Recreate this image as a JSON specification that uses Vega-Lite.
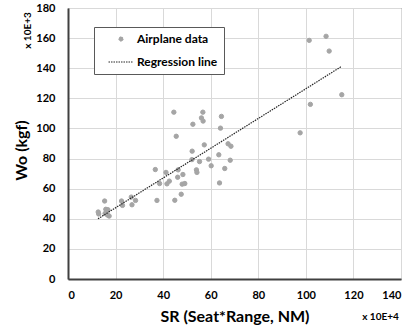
{
  "$schema": "https://vega.github.io/schema/vega-lite/v6.json",
  "width": 333,
  "height": 271,
  "autosize": {"type": "none"},
  "padding": {"left": 68, "top": 8, "right": 13, "bottom": 47},
  "background": "white",
  "datasets": {
    "pts": [
      {"sr": 12.7, "wo": 44.5, "series": "Airplane data"},
      {"sr": 12.9, "wo": 43.2, "series": "Airplane data"},
      {"sr": 15.4, "wo": 51.8, "series": "Airplane data"},
      {"sr": 15.9, "wo": 46.3, "series": "Airplane data"},
      {"sr": 16.8, "wo": 46.0, "series": "Airplane data"},
      {"sr": 15.6, "wo": 43.5, "series": "Airplane data"},
      {"sr": 17.3, "wo": 41.8, "series": "Airplane data"},
      {"sr": 16.6, "wo": 42.5, "series": "Airplane data"},
      {"sr": 22.5, "wo": 51.8, "series": "Airplane data"},
      {"sr": 22.9, "wo": 48.9, "series": "Airplane data"},
      {"sr": 26.6, "wo": 54.4, "series": "Airplane data"},
      {"sr": 26.9, "wo": 49.3, "series": "Airplane data"},
      {"sr": 28.4, "wo": 52.2, "series": "Airplane data"},
      {"sr": 36.7, "wo": 72.7, "series": "Airplane data"},
      {"sr": 37.4, "wo": 52.2, "series": "Airplane data"},
      {"sr": 38.5, "wo": 63.4, "series": "Airplane data"},
      {"sr": 41.2, "wo": 70.8, "series": "Airplane data"},
      {"sr": 41.6, "wo": 63.2, "series": "Airplane data"},
      {"sr": 42.6, "wo": 65.0, "series": "Airplane data"},
      {"sr": 44.5, "wo": 110.8, "series": "Airplane data"},
      {"sr": 45.5, "wo": 94.8, "series": "Airplane data"},
      {"sr": 44.9, "wo": 52.3, "series": "Airplane data"},
      {"sr": 46.3, "wo": 72.5, "series": "Airplane data"},
      {"sr": 46.1, "wo": 67.6, "series": "Airplane data"},
      {"sr": 47.6, "wo": 56.3, "series": "Airplane data"},
      {"sr": 48.3, "wo": 69.4, "series": "Airplane data"},
      {"sr": 48.0, "wo": 63.0, "series": "Airplane data"},
      {"sr": 49.1, "wo": 63.4, "series": "Airplane data"},
      {"sr": 52.5, "wo": 102.8, "series": "Airplane data"},
      {"sr": 52.2, "wo": 84.9, "series": "Airplane data"},
      {"sr": 52.1, "wo": 79.3, "series": "Airplane data"},
      {"sr": 54.0, "wo": 72.5, "series": "Airplane data"},
      {"sr": 54.2, "wo": 70.8, "series": "Airplane data"},
      {"sr": 55.3, "wo": 78.0, "series": "Airplane data"},
      {"sr": 56.1, "wo": 107.0, "series": "Airplane data"},
      {"sr": 56.7, "wo": 110.8, "series": "Airplane data"},
      {"sr": 56.8, "wo": 104.9, "series": "Airplane data"},
      {"sr": 57.3, "wo": 89.1, "series": "Airplane data"},
      {"sr": 59.1, "wo": 79.6, "series": "Airplane data"},
      {"sr": 60.2, "wo": 75.2, "series": "Airplane data"},
      {"sr": 63.4, "wo": 82.5, "series": "Airplane data"},
      {"sr": 63.7, "wo": 63.8, "series": "Airplane data"},
      {"sr": 64.1, "wo": 100.2, "series": "Airplane data"},
      {"sr": 64.5, "wo": 108.0, "series": "Airplane data"},
      {"sr": 65.9, "wo": 73.4, "series": "Airplane data"},
      {"sr": 67.3, "wo": 89.8, "series": "Airplane data"},
      {"sr": 68.5, "wo": 88.2, "series": "Airplane data"},
      {"sr": 68.2, "wo": 78.9, "series": "Airplane data"},
      {"sr": 97.6, "wo": 97.1, "series": "Airplane data"},
      {"sr": 101.4, "wo": 158.5, "series": "Airplane data"},
      {"sr": 101.9, "wo": 116.0, "series": "Airplane data"},
      {"sr": 108.5, "wo": 161.2, "series": "Airplane data"},
      {"sr": 109.8, "wo": 151.4, "series": "Airplane data"},
      {"sr": 115.1, "wo": 122.4, "series": "Airplane data"}
    ],
    "reg": [
      {"sr": 12.6, "wo": 40.0},
      {"sr": 114.8, "wo": 141.0}
    ]
  },
  "layer": [
    {
      "data": {"name": "pts"},
      "mark": {"type": "point", "filled": false, "fill": "#A5A5A5", "fillOpacity": 1, "opacity": 1, "strokeWidth": 1},
      "encoding": {
        "x": {
          "field": "sr", "type": "quantitative",
          "scale": {"domain": [0, 140], "nice": false, "zero": false},
          "axis": {
            "title": "SR (Seat*Range, NM)",
            "values": [0, 20, 40, 60, 80, 100, 120, 140],
            "titleX": 166.5, "titleY": 42.5, "titleBaseline": "alphabetic", "titleAlign": "center",
            "labelPadding": 10
          }
        },
        "y": {
          "field": "wo", "type": "quantitative",
          "scale": {"domain": [0, 180], "nice": false, "zero": false},
          "axis": {
            "title": "Wo (kgf)",
            "values": [0, 20, 40, 60, 80, 100, 120, 140, 160, 180],
            "titleX": -46.5, "titleY": 142, "titleBaseline": "middle", "titleAlign": "center", "titleAngle": -90,
            "labelPadding": 13
          }
        },
        "color": {
          "field": "series", "type": "nominal",
          "scale": {"domain": ["Airplane data", "Regression line"], "range": ["#A5A5A5", "#262626"]},
          "legend": {
            "title": null,
            "orient": "none",
            "legendX": 26,
            "legendY": 19,
            "padding": 6,
            "symbolOffset": 8,
            "labelOffset": 3,
            "rowPadding": 4,
            "symbolDash": [1.5, 1],
            "symbolStrokeWidth": 1,
            "strokeColor": "#595959",
            "fillColor": "white",
            "labelFont": "Lato",
            "labelFontSize": 12,
            "labelFontWeight": "bold",
            "labelColor": "#000000"
          }
        },
        "shape": {
          "field": "series", "type": "nominal",
          "scale": {"domain": ["Airplane data", "Regression line"], "range": ["circle", "stroke"]}
        },
        "size": {
          "field": "series", "type": "nominal",
          "scale": {"domain": ["Airplane data", "Regression line"], "range": [19, 625]}
        }
      }
    },
    {
      "data": {"name": "reg"},
      "mark": {"type": "line", "color": "#262626", "strokeDash": [1.5, 1], "strokeWidth": 1.2},
      "encoding": {
        "x": {
          "field": "sr", "type": "quantitative",
          "axis": {
            "orient": "bottom", "title": "x 10E+4", "labels": false, "ticks": false, "domain": false, "grid": false,
            "titleFontSize": 10, "titleX": 312, "titleY": 37, "titleBaseline": "middle", "titleAlign": "center"
          }
        },
        "y": {
          "field": "wo", "type": "quantitative",
          "axis": {
            "orient": "left", "title": "x 10E+3", "labels": false, "ticks": false, "domain": false, "grid": false,
            "titleFontSize": 10, "titleX": -41, "titleY": 22, "titleBaseline": "middle", "titleAlign": "center", "titleAngle": -90
          }
        }
      }
    }
  ],
  "resolve": {"axis": {"x": "independent", "y": "independent"}},
  "config": {
    "view": {"stroke": "#595959", "strokeWidth": 1},
    "axis": {
      "labelFont": "Lato", "labelFontSize": 11, "labelFontWeight": "bold", "labelColor": "#000000",
      "titleFont": "Lato", "titleFontSize": 16, "titleFontWeight": "bold", "titleColor": "#000000",
      "ticks": false, "tickSize": 0,
      "grid": true, "gridColor": "#D9D9D9", "gridWidth": 1,
      "domainColor": "#404040", "domainWidth": 2
    }
  }
}
